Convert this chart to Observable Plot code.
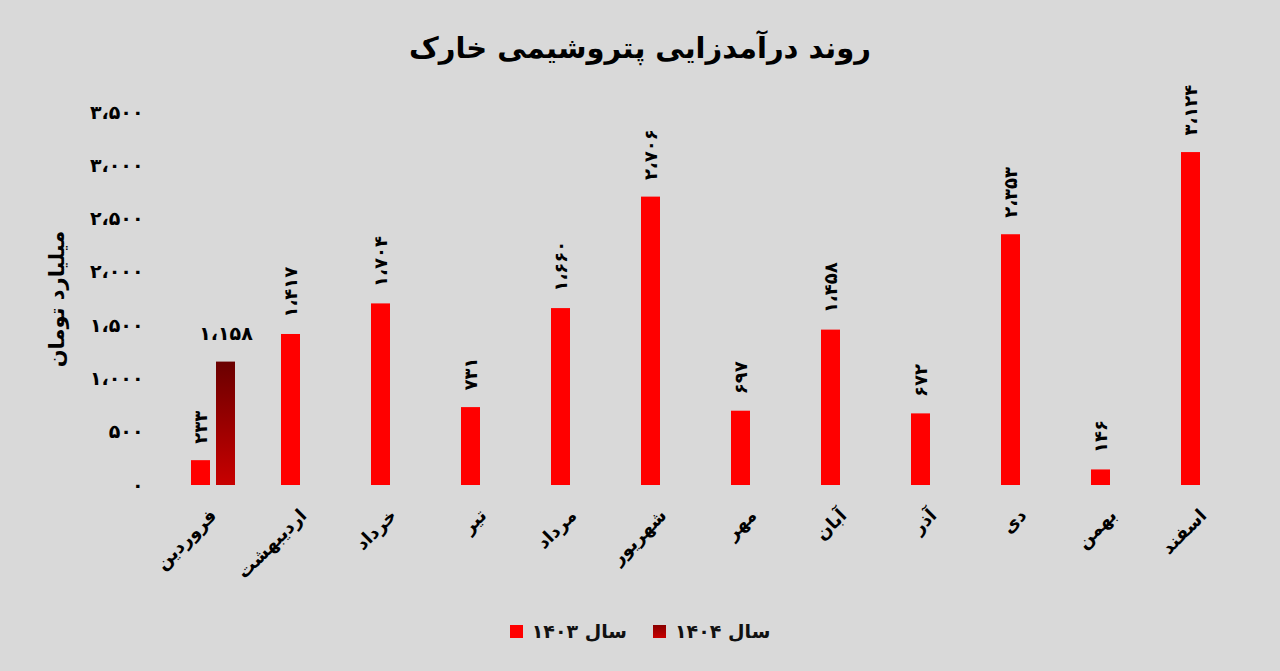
<!DOCTYPE html>
<html lang="fa">
<head>
<meta charset="utf-8">
<script src="https://cdn.jsdelivr.net/npm/d3@7"></script>
<script src="https://cdn.jsdelivr.net/npm/@observablehq/plot@0.6"></script>
<style>
  html, body { margin: 0; padding: 0; background: #d9d9d9; }
  body { width: 1280px; height: 671px; overflow: hidden; position: relative; font-family: "DejaVu Sans", sans-serif; }
  #title { position: absolute; left: 0; top: 31px; width: 1280px; text-align: center; font-size: 29px; font-weight: bold; color: #000; direction: rtl; }
  #chart { position: absolute; left: 0; top: 0; }
  #legend { position: absolute; left: 0; top: 620px; width: 1280px; display: flex; justify-content: center; align-items: center; gap: 0; font-size: 19px; font-weight: bold; color: #111; }
  .item { display: flex; align-items: center; margin: 0 13px; }
  .sw { width: 13px; height: 13px; margin-right: 9px; }
</style>
</head>
<body>
<div id="title">روند درآمدزایی پتروشیمی خارک</div>
<div id="chart"></div>
<div id="legend"></div>
<script>
const months = ["فروردین","اردیبهشت","خرداد","تیر","مرداد","شهریور","مهر","آبان","آذر","دی","بهمن","اسفند"];
const years = ["1403","1404"];
const yearLabels = ["سال ۱۴۰۳","سال ۱۴۰۴"];
const values1403 = [233,1417,1704,731,1660,2706,697,1458,672,2353,146,3124];
const values1404 = [1158];
const yTicks = [0,500,1000,1500,2000,2500,3000,3500];
const yLabel = "میلیارد تومان";

const fa = v => d3.format(",")(v).replace(/\d/g, c => "۰۱۲۳۴۵۶۷۸۹"[c]).replace(/,/g, "،");

const data1403 = months.map((m, i) => ({month: m, year: years[0], value: values1403[i]}));
const data1404 = values1404.map((v, i) => ({month: months[i], year: years[1], value: v}));

const font = "DejaVu Sans, sans-serif";

const plot = Plot.plot({
  width: 1280,
  height: 600,
  marginLeft: 167,
  marginRight: 30.5,
  marginTop: 112,
  marginBottom: 115,
  style: {background: "transparent", fontFamily: font, color: "#000"},
  fx: {domain: months, padding: 0},
  x: {domain: years, axis: null, paddingInner: 0.2308, paddingOuter: 0.85},
  y: {domain: [0, 3500]},
  marks: [
    Plot.barY(data1403, {fx: "month", x: "year", y: "value", fill: "#ff0000"}),
    Plot.barY(data1404, {fx: "month", x: "year", y: "value", fill: "url(#g1404)"}),
    Plot.text(data1403, {fx: "month", x: "year", y: "value", text: d => fa(d.value), rotate: -90, textAnchor: "start", dy: -17, fontSize: 18, fontWeight: "bold", fill: "#000"}),
    Plot.text(data1404, {fx: "month", x: "year", y: "value", text: d => fa(d.value), lineAnchor: "bottom", dy: -22, fontSize: 19, fontWeight: "bold", fill: "#000"}),
    Plot.axisY({ticks: yTicks, tickFormat: fa, tickSize: 0, tickPadding: 25, label: null, fontSize: 19, fontWeight: "bold"}),
    Plot.axisY({ticks: [], label: yLabel, labelAnchor: "center", labelArrow: "none", labelOffset: 119, fontSize: 21, fontWeight: "bold"}),
    Plot.axisFx({anchor: "bottom", tickRotate: -45, tickSize: 0, tickPadding: 27, label: null, fontSize: 18, fontWeight: "bold"})
  ]
});

const svg = d3.select(plot.tagName.toLowerCase() === "svg" ? plot : plot.querySelector("svg"));
const grad = svg.insert("defs", ":first-child").append("linearGradient")
  .attr("id", "g1404").attr("x1", 0).attr("y1", 0).attr("x2", 0).attr("y2", 1);
grad.append("stop").attr("offset", 0).attr("stop-color", "#6a0000");
grad.append("stop").attr("offset", 1).attr("stop-color", "#c80000");

document.getElementById("chart").appendChild(plot);

const legendColors = ["#ff0000", "linear-gradient(#8a0000, #c80000)"];
const legend = document.getElementById("legend");
yearLabels.forEach((lab, i) => {
  const item = document.createElement("div");
  item.className = "item";
  const sw = document.createElement("div");
  sw.className = "sw";
  sw.style.background = legendColors[i];
  const t = document.createElement("span");
  t.dir = "rtl";
  t.textContent = lab;
  item.appendChild(sw);
  item.appendChild(t);
  legend.appendChild(item);
});
</script>
</body>
</html>
